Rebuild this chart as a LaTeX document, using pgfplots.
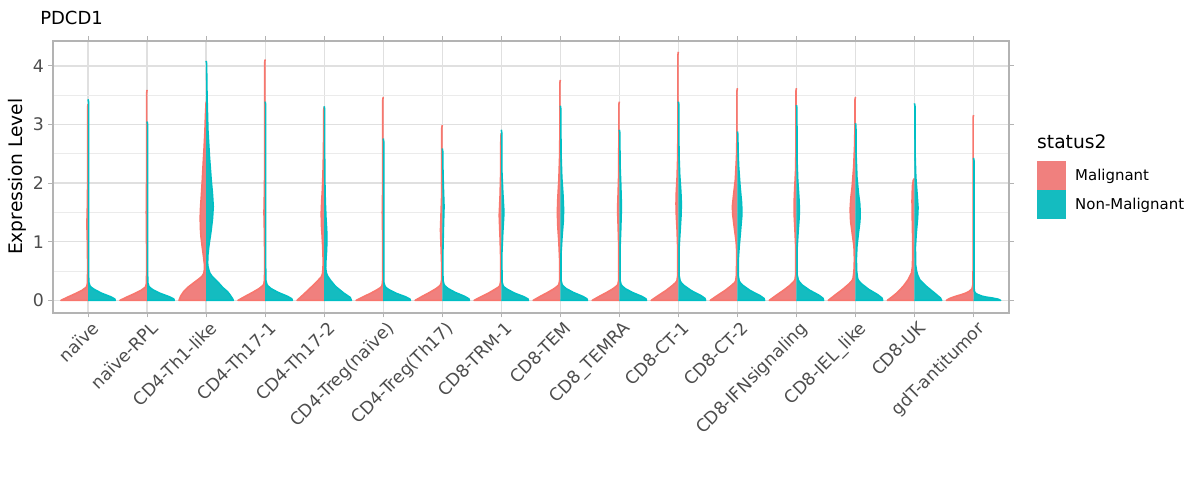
\documentclass[border=0pt]{standalone}
\usepackage{pgfplots}
\pgfplotsset{compat=1.18}
\usepackage{fontspec}
\setmainfont{DejaVu Sans}

\definecolor{malfill}{RGB}{240,128,126}
\definecolor{malline}{RGB}{248,118,109}
\definecolor{nonfill}{RGB}{20,188,192}
\definecolor{nonline}{RGB}{0,191,196}
\definecolor{gridmaj}{HTML}{E0E0E0}
\definecolor{gridmin}{HTML}{EBEBEB}
\definecolor{frame}{HTML}{B3B3B3}
\definecolor{ticktext}{HTML}{4D4D4D}

% each half violin is a table of (height y, half width w) pairs
\pgfplotsset{
  table/row sep=\\,
  table/y=y,
  mal/.style={draw=malline, fill=malfill, line width=1.2pt, line join=round},
  non/.style={draw=nonline, fill=nonfill, line width=1.2pt, line join=round},
}

\begin{document}
\begin{tikzpicture}
\useasboundingbox (-39.5pt,-125.5pt) rectangle (860.5pt,234.5pt);
\begin{axis}[
  scale only axis, width=717.2pt, height=204pt,
  xmin=0.4, xmax=16.6, ymin=-0.21, ymax=4.43,
  xtick={1,...,16},
  xticklabels={naïve, naïve-RPL, CD4-Th1-like, CD4-Th17-1, CD4-Th17-2,
    CD4-Treg(naïve), CD4-Treg(Th17), CD8-TRM-1, CD8-TEM, CD8\_TEMRA,
    CD8-CT-1, CD8-CT-2, CD8-IFNsignaling, CD8-IEL\_like, CD8-UK, gdT-antitumor},
  ytick={0,1,2,3,4},
  minor ytick={0.5,1.5,2.5,3.5},
  grid=both,
  major grid style={color=gridmaj, line width=1pt},
  minor grid style={color=gridmin, line width=0.7pt},
  axis line style={draw=frame, line width=1.4pt},
  tick align=outside, major tick length=3.5pt, minor tick length=0pt,
  tick style={color=frame, line width=0.8pt},
  /pgf/number format/assume math mode=true,
  ticklabel style={font=\fontsize{13}{15}\selectfont, text=ticktext, inner sep=0pt},
  yticklabel style={anchor=east, xshift=-2.8pt},
  xticklabel style={rotate=45, anchor=north east, yshift=-2.8pt},
  legend style={at={(axis description cs:1.0293,0.5577)}, anchor=north west,
    draw=none, fill=none, inner sep=0pt, row sep=0pt, column sep=6.75pt,
    nodes={inner sep=0pt, anchor=west, font=\fontsize{11.2}{13}\selectfont}},
  legend cell align=left,
  legend image code/.code={\path[#1] (0pt,-10.875pt) rectangle (21.75pt,10.875pt);},
]
\addlegendimage{fill=malfill, draw=none}
\addlegendentry{Malignant}
\addlegendimage{fill=nonfill, draw=none}
\addlegendentry{Non-Malignant}

% naive
\addplot[mal] table[x expr=1-\thisrow{w}] {y w \\ 0 0 \\ 0 .46 \\ .058 .34 \\ .115 .215 \\ .17 .105 \\ .21 .05 \\ .23 .025 \\ .29 .012 \\ .5 .008 \\ .9 .01 \\ 1.3 .02 \\ 1.7 .01 \\ 2.1 .008 \\ 3.3 .008 \\ 3.35 0 \\};
\addplot[non] table[x expr=1+\thisrow{w}] {y w \\ 0 0 \\ 0 .46 \\ .025 .45 \\ .0625 .38 \\ .125 .22 \\ .19 .1 \\ .225 .05 \\ .25 .03 \\ .31 .012 \\ .5 .008 \\ 3.38 .008 \\ 3.43 0 \\};
% naive-RPL
\addplot[mal] table[x expr=2-\thisrow{w}] {y w \\ 0 0 \\ 0 .46 \\ .058 .34 \\ .115 .215 \\ .17 .105 \\ .21 .05 \\ .23 .025 \\ .29 .012 \\ .5 .008 \\ 1.1 .01 \\ 1.5 .014 \\ 1.9 .01 \\ 2.3 .008 \\ 3.54 .008 \\ 3.59 0 \\};
\addplot[non] table[x expr=2+\thisrow{w}] {y w \\ 0 0 \\ 0 .46 \\ .024 .45 \\ .06 .38 \\ .12 .22 \\ .18 .1 \\ .216 .05 \\ .24 .03 \\ .3 .012 \\ .5 .008 \\ 3.0 .008 \\ 3.05 0 \\};
% CD4-Th1-like
\addplot[mal] table[x expr=3-\thisrow{w}] {y w \\ 0 0 \\ 0 .46 \\ .075 .43 \\ .15 .38 \\ .23 .3 \\ .3 .21 \\ .36 .13 \\ .41 .07 \\ .46 .04 \\ .52 .03 \\ .62 .03 \\ .75 .045 \\ .9 .065 \\ 1.09 .088 \\ 1.25 .098 \\ 1.43 .1 \\ 1.6 .094 \\ 1.77 .082 \\ 2.05 .065 \\ 2.34 .05 \\ 2.6 .035 \\ 2.9 .02 \\ 3.15 .012 \\ 3.39 0 \\};
\addplot[non] table[x expr=3+\thisrow{w}] {y w \\ 0 0 \\ 0 .46 \\ .04 .44 \\ .1 .4 \\ .15 .36 \\ .22 .28 \\ .3 .21 \\ .36 .15 \\ .41 .1 \\ .47 .06 \\ .52 .045 \\ .58 .03 \\ .64 .025 \\ .78 .03 \\ .92 .045 \\ 1.06 .065 \\ 1.2 .085 \\ 1.4 .108 \\ 1.6 .12 \\ 1.8 .108 \\ 2.06 .085 \\ 2.45 .056 \\ 2.9 .03 \\ 3.48 .015 \\ 3.9 .009 \\ 4.04 .008 \\ 4.085 0 \\};
% CD4-Th17-1
\addplot[mal] table[x expr=4-\thisrow{w}] {y w \\ 0 0 \\ 0 .46 \\ .068 .34 \\ .135 .215 \\ .2 .105 \\ .243 .05 \\ .27 .025 \\ .34 .012 \\ .6 .008 \\ 1.1 .012 \\ 1.5 .02 \\ 1.9 .012 \\ 2.3 .008 \\ 4.06 .008 \\ 4.11 0 \\};
\addplot[non] table[x expr=4+\thisrow{w}] {y w \\ 0 0 \\ 0 .46 \\ .027 .45 \\ .068 .38 \\ .135 .22 \\ .2 .1 \\ .243 .05 \\ .27 .03 \\ .34 .012 \\ .6 .008 \\ 3.34 .008 \\ 3.39 0 \\};
% CD4-Th17-2
\addplot[mal] table[x expr=5-\thisrow{w}] {y w \\ 0 0 \\ 0 .46 \\ .11 .34 \\ .23 .215 \\ .34 .105 \\ .4 .05 \\ .45 .03 \\ .55 .02 \\ .7 .018 \\ .9 .025 \\ 1.1 .035 \\ 1.3 .048 \\ 1.5 .05 \\ 1.7 .042 \\ 1.9 .03 \\ 2.2 .02 \\ 2.5 .013 \\ 3.0 .008 \\ 3.25 .008 \\ 3.3 0 \\};
\addplot[non] table[x expr=5+\thisrow{w}] {y w \\ 0 0 \\ 0 .46 \\ .05 .44 \\ .125 .33 \\ .24 .19 \\ .35 .1 \\ .42 .055 \\ .47 .035 \\ .55 .025 \\ .7 .03 \\ .85 .04 \\ 1.0 .045 \\ 1.2 .042 \\ 1.4 .03 \\ 1.7 .018 \\ 2.1 .01 \\ 2.5 .008 \\ 3.26 .008 \\ 3.31 0 \\};
% CD4-Treg(naive)
\addplot[mal] table[x expr=6-\thisrow{w}] {y w \\ 0 0 \\ 0 .46 \\ .06 .34 \\ .12 .215 \\ .18 .105 \\ .216 .05 \\ .24 .025 \\ .3 .012 \\ .6 .008 \\ 1.1 .01 \\ 1.5 .016 \\ 1.9 .01 \\ 2.3 .008 \\ 3.42 .008 \\ 3.47 0 \\};
\addplot[non] table[x expr=6+\thisrow{w}] {y w \\ 0 0 \\ 0 .46 \\ .024 .45 \\ .06 .38 \\ .12 .22 \\ .18 .1 \\ .216 .05 \\ .24 .03 \\ .3 .012 \\ .6 .008 \\ 2.71 .008 \\ 2.76 0 \\};
% CD4-Treg(Th17)
\addplot[mal] table[x expr=7-\thisrow{w}] {y w \\ 0 0 \\ 0 .46 \\ .068 .34 \\ .135 .215 \\ .2 .105 \\ .243 .05 \\ .27 .025 \\ .34 .012 \\ .6 .01 \\ .9 .02 \\ 1.2 .03 \\ 1.5 .02 \\ 1.8 .01 \\ 2.2 .008 \\ 2.94 .008 \\ 2.99 0 \\};
\addplot[non] table[x expr=7+\thisrow{w}] {y w \\ 0 0 \\ 0 .46 \\ .027 .45 \\ .068 .38 \\ .135 .22 \\ .2 .1 \\ .243 .05 \\ .27 .03 \\ .34 .012 \\ .8 .01 \\ 1.25 .02 \\ 1.6 .03 \\ 1.95 .018 \\ 2.3 .01 \\ 2.54 .008 \\ 2.59 0 \\};
% CD8-TRM-1
\addplot[mal] table[x expr=8-\thisrow{w}] {y w \\ 0 0 \\ 0 .46 \\ .063 .34 \\ .125 .215 \\ .19 .105 \\ .225 .05 \\ .25 .025 \\ .32 .012 \\ .7 .01 \\ 1.05 .02 \\ 1.45 .035 \\ 1.8 .02 \\ 2.2 .01 \\ 2.8 .008 \\ 2.85 0 \\};
\addplot[non] table[x expr=8+\thisrow{w}] {y w \\ 0 0 \\ 0 .46 \\ .025 .45 \\ .063 .38 \\ .125 .22 \\ .19 .1 \\ .225 .05 \\ .25 .03 \\ .32 .012 \\ .8 .01 \\ 1.15 .025 \\ 1.5 .045 \\ 1.85 .025 \\ 2.2 .01 \\ 2.86 .008 \\ 2.91 0 \\};
% CD8-TEM
\addplot[mal] table[x expr=9-\thisrow{w}] {y w \\ 0 0 \\ 0 .46 \\ .068 .34 \\ .135 .215 \\ .2 .105 \\ .243 .05 \\ .27 .025 \\ .34 .012 \\ .7 .012 \\ 1.0 .025 \\ 1.25 .042 \\ 1.5 .05 \\ 1.75 .042 \\ 2.05 .025 \\ 2.45 .012 \\ 2.8 .008 \\ 3.71 .008 \\ 3.76 0 \\};
\addplot[non] table[x expr=9+\thisrow{w}] {y w \\ 0 0 \\ 0 .46 \\ .027 .45 \\ .068 .38 \\ .135 .22 \\ .2 .1 \\ .243 .05 \\ .27 .03 \\ .34 .012 \\ .8 .012 \\ 1.1 .03 \\ 1.35 .05 \\ 1.55 .055 \\ 1.8 .045 \\ 2.1 .025 \\ 2.5 .012 \\ 3.27 .008 \\ 3.32 0 \\};
% CD8_TEMRA
\addplot[mal] table[x expr=10-\thisrow{w}] {y w \\ 0 0 \\ 0 .46 \\ .068 .34 \\ .135 .215 \\ .2 .105 \\ .243 .05 \\ .27 .025 \\ .34 .012 \\ .9 .01 \\ 1.25 .02 \\ 1.55 .03 \\ 1.85 .02 \\ 2.2 .01 \\ 3.34 .008 \\ 3.39 0 \\};
\addplot[non] table[x expr=10+\thisrow{w}] {y w \\ 0 0 \\ 0 .46 \\ .027 .45 \\ .068 .38 \\ .135 .22 \\ .2 .1 \\ .243 .05 \\ .27 .03 \\ .34 .012 \\ .9 .012 \\ 1.25 .025 \\ 1.6 .035 \\ 1.95 .025 \\ 2.3 .012 \\ 2.86 .008 \\ 2.91 0 \\};
% CD8-CT-1
\addplot[mal] table[x expr=11-\thisrow{w}] {y w \\ 0 0 \\ 0 .46 \\ .083 .34 \\ .165 .215 \\ .25 .105 \\ .3 .05 \\ .33 .025 \\ .42 .012 \\ .9 .012 \\ 1.2 .022 \\ 1.45 .035 \\ 1.65 .04 \\ 1.85 .035 \\ 2.1 .022 \\ 2.5 .01 \\ 4.19 .008 \\ 4.24 0 \\};
\addplot[non] table[x expr=11+\thisrow{w}] {y w \\ 0 0 \\ 0 .46 \\ .033 .45 \\ .083 .38 \\ .165 .22 \\ .25 .1 \\ .3 .05 \\ .33 .03 \\ .42 .012 \\ .9 .012 \\ 1.2 .03 \\ 1.45 .045 \\ 1.65 .05 \\ 1.85 .042 \\ 2.15 .022 \\ 2.5 .01 \\ 3.34 .008 \\ 3.39 0 \\};
% CD8-CT-2
\addplot[mal] table[x expr=12-\thisrow{w}] {y w \\ 0 0 \\ 0 .46 \\ .083 .34 \\ .165 .215 \\ .25 .105 \\ .3 .05 \\ .33 .03 \\ .42 .018 \\ .7 .012 \\ .92 .015 \\ 1.03 .025 \\ 1.26 .055 \\ 1.45 .078 \\ 1.6 .085 \\ 1.8 .065 \\ 2.06 .035 \\ 2.45 .015 \\ 2.8 .008 \\ 3.57 .008 \\ 3.62 0 \\};
\addplot[non] table[x expr=12+\thisrow{w}] {y w \\ 0 0 \\ 0 .46 \\ .033 .45 \\ .083 .38 \\ .165 .22 \\ .25 .1 \\ .3 .05 \\ .33 .03 \\ .42 .015 \\ .7 .015 \\ .92 .03 \\ 1.15 .05 \\ 1.45 .075 \\ 1.65 .072 \\ 1.94 .045 \\ 2.3 .02 \\ 2.6 .01 \\ 2.83 .008 \\ 2.88 0 \\};
% CD8-IFNsignaling
\addplot[mal] table[x expr=13-\thisrow{w}] {y w \\ 0 0 \\ 0 .46 \\ .088 .34 \\ .175 .215 \\ .26 .105 \\ .315 .05 \\ .35 .025 \\ .44 .012 \\ .9 .012 \\ 1.2 .025 \\ 1.45 .038 \\ 1.65 .04 \\ 1.9 .03 \\ 2.2 .015 \\ 2.6 .008 \\ 3.57 .008 \\ 3.62 0 \\};
\addplot[non] table[x expr=13+\thisrow{w}] {y w \\ 0 0 \\ 0 .46 \\ .035 .45 \\ .088 .38 \\ .175 .22 \\ .26 .1 \\ .315 .05 \\ .35 .03 \\ .44 .012 \\ .9 .012 \\ 1.2 .03 \\ 1.4 .045 \\ 1.55 .05 \\ 1.75 .042 \\ 2.05 .022 \\ 2.4 .01 \\ 3.28 .008 \\ 3.33 0 \\};
% CD8-IEL_like
\addplot[mal] table[x expr=14-\thisrow{w}] {y w \\ 0 0 \\ 0 .46 \\ .095 .34 \\ .19 .215 \\ .285 .105 \\ .34 .056 \\ .38 .04 \\ .5 .025 \\ .7 .018 \\ .92 .025 \\ 1.15 .056 \\ 1.35 .082 \\ 1.55 .09 \\ 1.75 .078 \\ 1.94 .056 \\ 2.28 .03 \\ 2.63 .015 \\ 3.0 .008 \\ 3.42 .008 \\ 3.47 0 \\};
\addplot[non] table[x expr=14+\thisrow{w}] {y w \\ 0 0 \\ 0 .46 \\ .038 .45 \\ .095 .38 \\ .19 .22 \\ .285 .1 \\ .34 .05 \\ .38 .035 \\ .5 .02 \\ .7 .015 \\ .92 .025 \\ 1.15 .05 \\ 1.35 .075 \\ 1.5 .08 \\ 1.65 .072 \\ 1.83 .05 \\ 2.1 .025 \\ 2.5 .01 \\ 2.97 .008 \\ 3.02 0 \\};
% CD8-UK
\addplot[mal] table[x expr=15-\thisrow{w}] {y w \\ 0 0 \\ 0 .46 \\ .06 .38 \\ .125 .3 \\ .24 .19 \\ .35 .11 \\ .47 .05 \\ .58 .035 \\ .8 .03 \\ 1.1 .032 \\ 1.4 .038 \\ 1.7 .042 \\ 1.95 .035 \\ 2.05 .02 \\ 2.08 0 \\};
\addplot[non] table[x expr=15+\thisrow{w}] {y w \\ 0 0 \\ 0 .46 \\ .04 .44 \\ .125 .34 \\ .24 .2 \\ .35 .09 \\ .44 .05 \\ .5 .035 \\ .6 .02 \\ .9 .015 \\ 1.15 .03 \\ 1.4 .052 \\ 1.58 .06 \\ 1.8 .045 \\ 2.1 .022 \\ 2.5 .01 \\ 3.31 .008 \\ 3.36 0 \\};
% gdT-antitumor
\addplot[mal] table[x expr=16-\thisrow{w}] {y w \\ 0 0 \\ 0 .46 \\ .035 .4 \\ .07 .3 \\ .1 .2 \\ .125 .13 \\ .15 .08 \\ .18 .045 \\ .2 .025 \\ .26 .012 \\ .5 .008 \\ 3.11 .008 \\ 3.16 0 \\};
\addplot[non] table[x expr=16+\thisrow{w}] {y w \\ 0 0 \\ 0 .46 \\ .02 .42 \\ .04 .32 \\ .055 .22 \\ .07 .15 \\ .1 .07 \\ .125 .03 \\ .16 .012 \\ .4 .008 \\ 2.38 .008 \\ 2.43 0 \\};
\end{axis}

\node[anchor=base west, inner sep=0pt, font=\fontsize{13.5}{16}\selectfont] at (-9.5pt,216.5pt) {PDCD1};
\node[rotate=90, inner sep=0pt, font=\fontsize{14}{16}\selectfont] at (-26.8pt,102pt) {Expression Level};
\node[anchor=base west, inner sep=0pt, font=\fontsize{14}{16}\selectfont] at (738.2pt,123.5pt) {status2};
\end{tikzpicture}
\end{document}
